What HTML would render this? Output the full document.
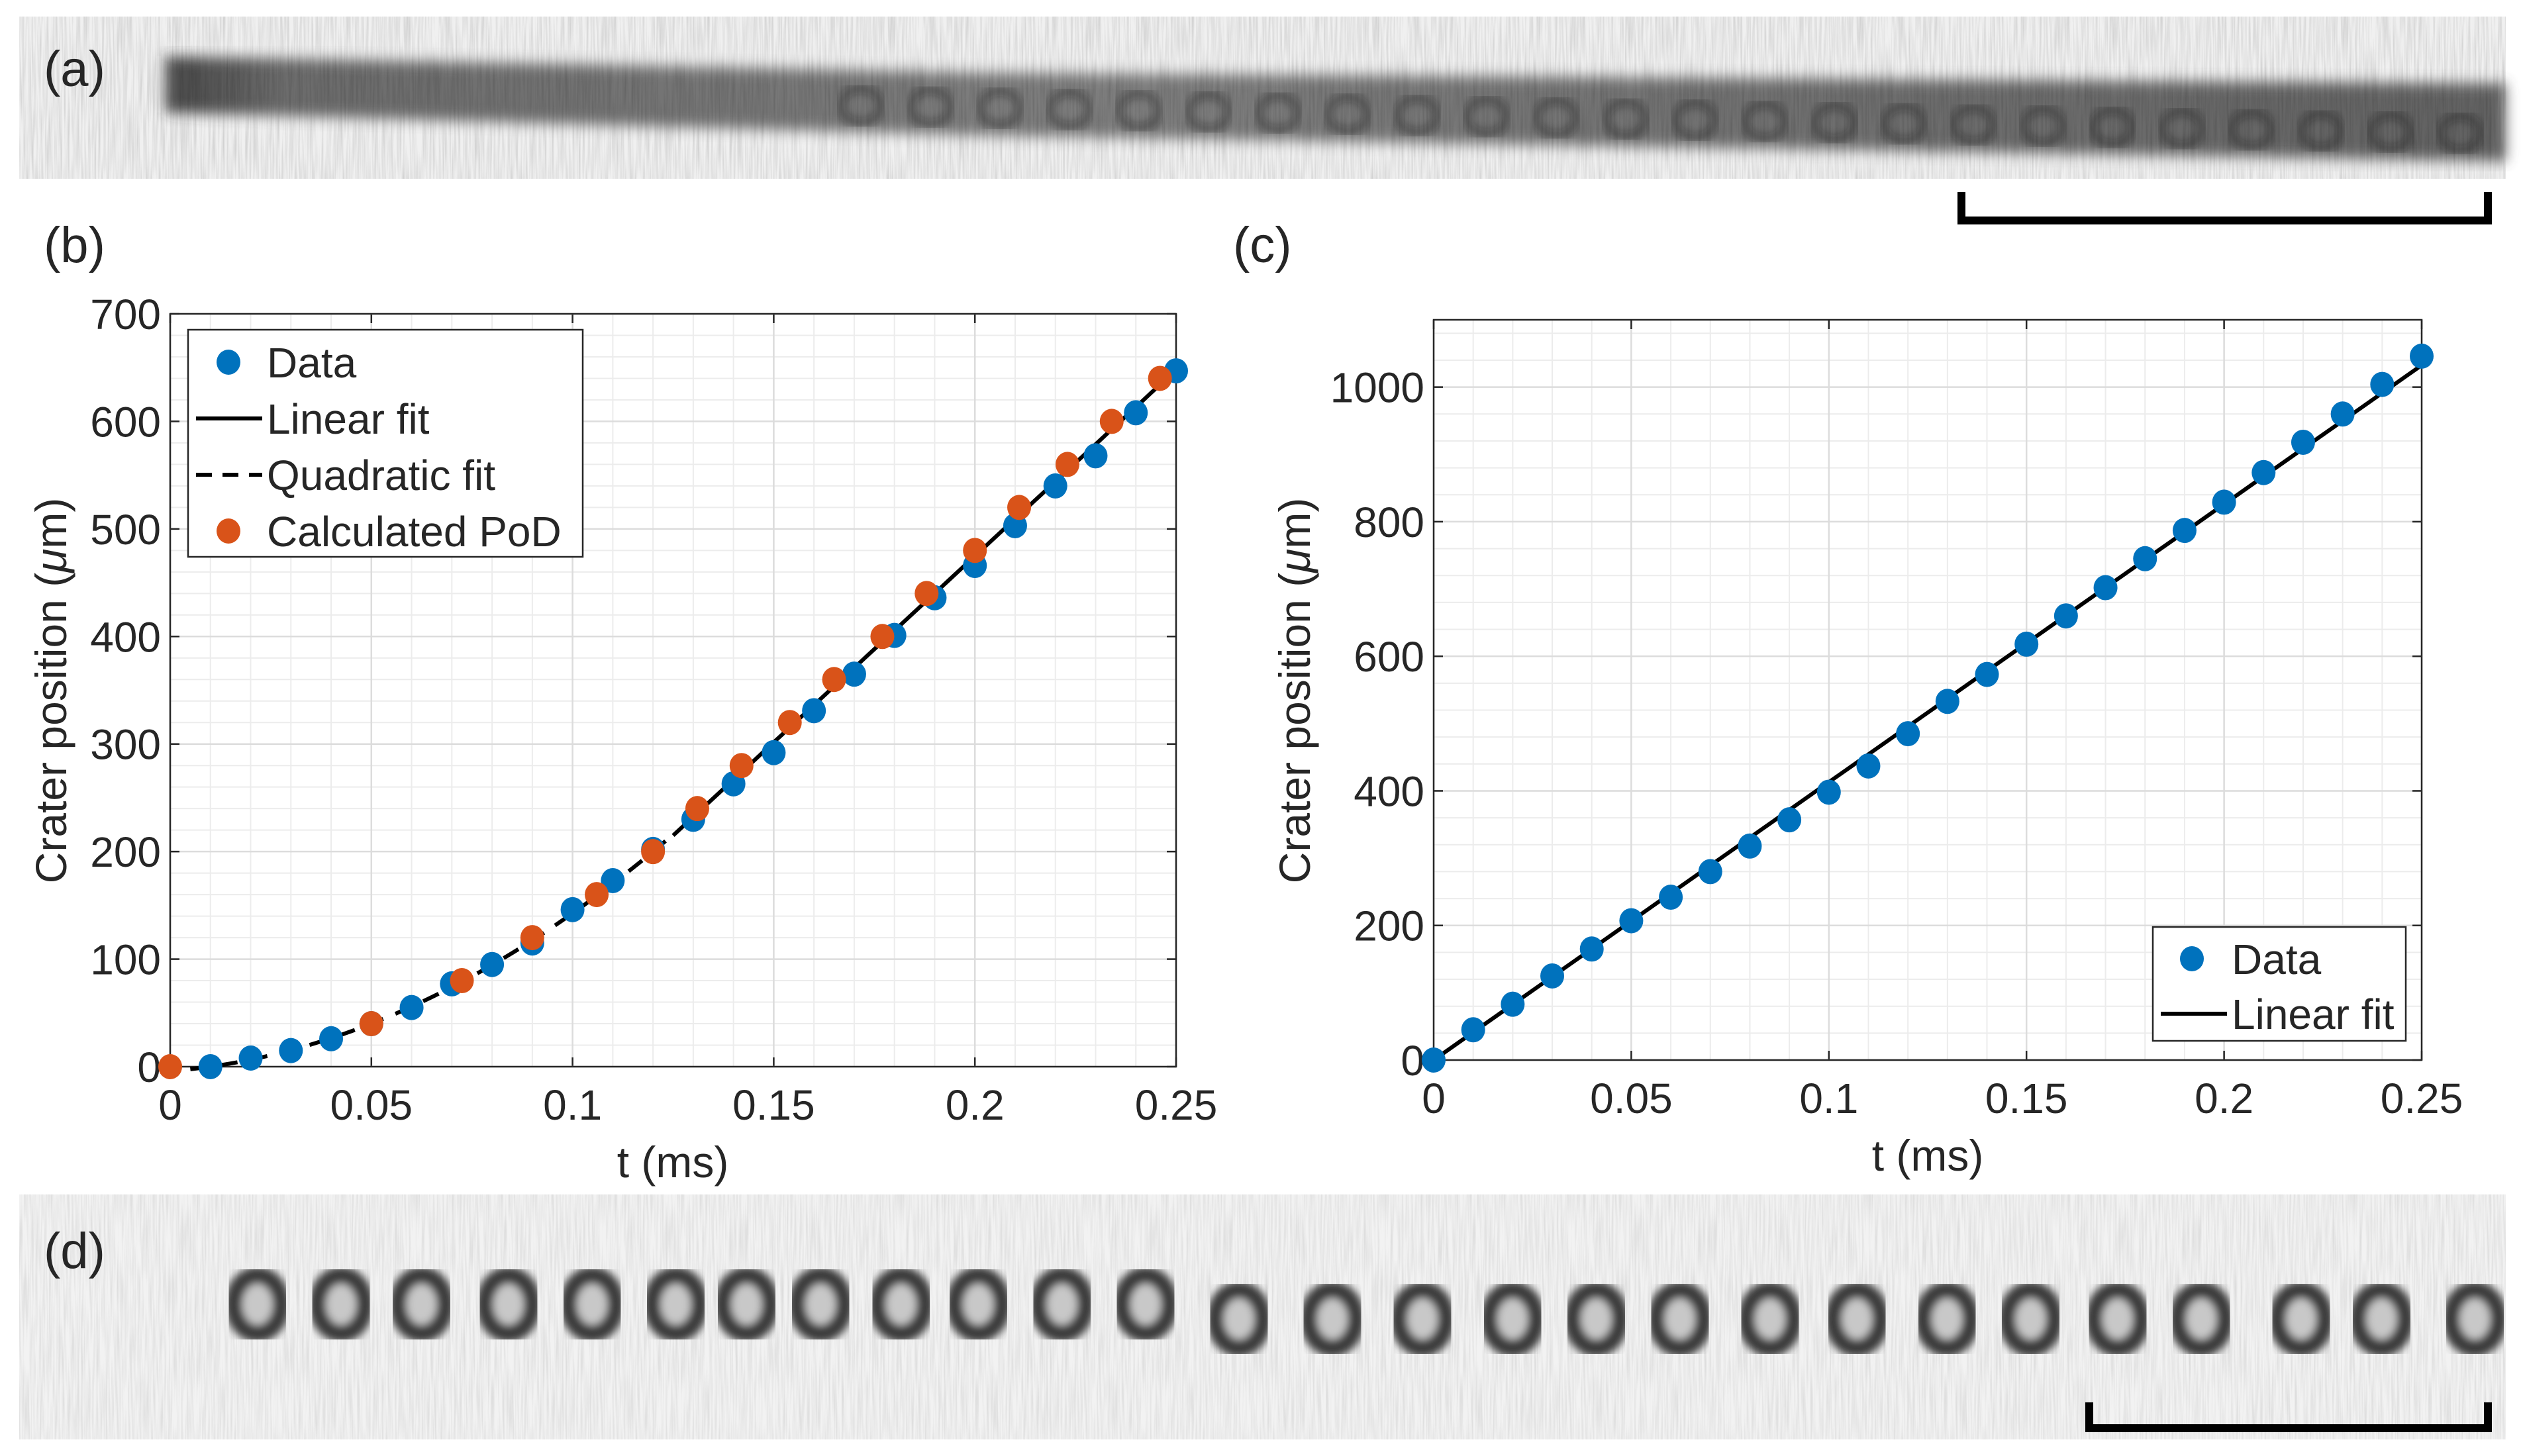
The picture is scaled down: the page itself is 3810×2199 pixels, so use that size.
<!DOCTYPE html>
<html><head><meta charset="utf-8">
<style>
html,body{margin:0;padding:0;background:#fff;}
svg{display:block;}
text{font-family:"Liberation Sans",sans-serif;fill:#262626;}
</style></head>
<body>
<svg id="fig" width="3810" height="2199" viewBox="0 0 3810 2199" xmlns="http://www.w3.org/2000/svg">
<defs>
<filter id="noiseA" x="0" y="0" width="100%" height="100%">
<feTurbulence type="fractalNoise" baseFrequency="0.35 0.012" numOctaves="2" seed="3"/>
<feColorMatrix type="matrix" values="0 0 0 0 0  0 0 0 0 0  0 0 0 0 0  0 0 0 -1.6 1.05"/>
</filter>
<linearGradient id="bandA" x1="0" x2="1" y1="0" y2="0">
<stop offset="0" stop-color="#2a2a2a"/><stop offset="0.05" stop-color="#555"/><stop offset="0.4" stop-color="#6a6a6a"/><stop offset="1" stop-color="#4a4a4a"/>
</linearGradient>
<filter id="blur8"><feGaussianBlur stdDeviation="10"/></filter>
<filter id="blur4"><feGaussianBlur stdDeviation="6"/></filter>
</defs>

<!-- Panel (a) -->
<g>
<rect x="29" y="25" width="3755" height="245" fill="#f0f0f0"/>
<polygon points="250,85 1500,110 3784,126 3784,243 1500,205 250,170" fill="url(#bandA)" filter="url(#blur8)" opacity="0.85"/>
<g id="aCraters" opacity="0.3"></g>
<rect x="29" y="25" width="3755" height="245" fill="#000" filter="url(#noiseA)" opacity="0.15"/>
</g>
<text x="66" y="130" font-size="76">(a)</text>
<path d="M2962,290 V333 H3757 V290" fill="none" stroke="#000" stroke-width="12"/>

<!-- Panel (d) -->
<g>
<rect x="29" y="1804" width="3755" height="370" fill="#f2f2f2"/>
<rect x="29" y="1804" width="3755" height="370" fill="#000" filter="url(#noiseA)" opacity="0.1"/>
<g id="dCraters"></g>
</g>
<text x="66" y="1915" font-size="76">(d)</text>
<path d="M3155,2118 V2157 H3757 V2118" fill="none" stroke="#000" stroke-width="12"/>

<text x="66" y="396" font-size="76">(b)</text>
<text x="1862" y="396" font-size="76">(c)</text>

<g id="chartB"></g>
<g id="chartC"></g>
</svg>
<script>
// ---- Chart (b) data ----
const bDataT = [0.01,0.02,0.03,0.04,0.05,0.06,0.07,0.08,0.09,0.10,0.11,0.12,0.13,0.14,0.15,0.16,0.17,0.18,0.19,0.20,0.21,0.22,0.23,0.24,0.25];
const bDataY = [0,8,15,26,40,55,77,95,115,146,173,202,230,263,292,331,365,401,436,466,503,540,568,608,647];
const bPodT = [0,0.05,0.0725,0.09,0.106,0.12,0.131,0.142,0.154,0.165,0.177,0.188,0.2,0.211,0.223,0.234,0.246];
const bPodY = [0,40,80,120,160,200,240,280,320,360,400,440,480,520,560,600,640];
const bQuadCoef = [11688,299,-4.16]; // a t^2 + b t + c
const bQuadRange = [0.005,0.125];
const bLinCoef = [3464,-218];
const bLinRange = [0.125,0.25];
const bXTicks = [0,0.05,0.1,0.15,0.2,0.25];
const bXTickLabels = ["0","0.05","0.1","0.15","0.2","0.25"];
const bYTicks = [0,100,200,300,400,500,600,700];
const bYTickLabels = ["0","100","200","300","400","500","600","700"];

// ---- Chart (c) data ----
const cDataT = [0,0.01,0.02,0.03,0.04,0.05,0.06,0.07,0.08,0.09,0.10,0.11,0.12,0.13,0.14,0.15,0.16,0.17,0.18,0.19,0.20,0.21,0.22,0.23,0.24,0.25];
const cDataY = [0,45,83,125,165,207,242,280,318,357,398,437,485,533,573,618,660,702,745,787,829,873,918,960,1004,1046];
const cLinCoef = [4130,0];
const cLinRange = [0,0.25];
const cXTicks = [0,0.05,0.1,0.15,0.2,0.25];
const cXTickLabels = ["0","0.05","0.1","0.15","0.2","0.25"];
const cYTicks = [0,200,400,600,800,1000];
const cYTickLabels = ["0","200","400","600","800","1000"];

const NS="http://www.w3.org/2000/svg";
function mk(parent,tag,attrs){const e=document.createElementNS(NS,tag);for(const k in attrs)e.setAttribute(k,attrs[k]);parent.appendChild(e);return e;}

function drawAxes(g,cfg){
  const {L,R,T,B,xmax,ymax,xMinor,yMinor,xTicks,xLabels,yTicks,yLabels}=cfg;
  const sx=v=>L+(v/xmax)*(R-L), sy=v=>B-(v/ymax)*(B-T);
  mk(g,'rect',{x:L,y:T,width:R-L,height:B-T,fill:'#fff'});
  for(let v=0;v<=xmax+1e-9;v+=xMinor){const l=mk(g,'line',{x1:sx(v),x2:sx(v),y1:T,y2:B,stroke:'#ececec','stroke-width':2});}
  for(let v=0;v<=ymax+1e-9;v+=yMinor){const l=mk(g,'line',{x1:L,x2:R,y1:sy(v),y2:sy(v),stroke:'#ececec','stroke-width':2});}
  xTicks.forEach((v,i)=>{
    const l=mk(g,'line',{x1:sx(v),x2:sx(v),y1:T,y2:B,stroke:'#dcdcdc','stroke-width':2.5});
    
    mk(g,'line',{x1:sx(v),x2:sx(v),y1:B,y2:B-14,stroke:'#262626','stroke-width':2.5});
    mk(g,'line',{x1:sx(v),x2:sx(v),y1:T,y2:T+14,stroke:'#262626','stroke-width':2.5});
    const t=mk(g,'text',{x:sx(v),y:B+80,'font-size':64,'text-anchor':'middle'});t.textContent=xLabels[i];
    
  });
  yTicks.forEach((v,i)=>{
    const l=mk(g,'line',{x1:L,x2:R,y1:sy(v),y2:sy(v),stroke:'#dcdcdc','stroke-width':2.5});
    
    mk(g,'line',{x1:L,x2:L+14,y1:sy(v),y2:sy(v),stroke:'#262626','stroke-width':2.5});
    mk(g,'line',{x1:R,x2:R-14,y1:sy(v),y2:sy(v),stroke:'#262626','stroke-width':2.5});
    const t=mk(g,'text',{x:L-14,y:sy(v)+23,'font-size':64,'text-anchor':'end'});t.textContent=yLabels[i];
    
  });
  const box=mk(g,'rect',{x:L,y:T,width:R-L,height:B-T,fill:'none',stroke:'#262626','stroke-width':2.5});
  
  return {sx,sy};
}
function fitPath(g,sx,sy,f,r,dash,name){
  let d='';const n=60;
  for(let i=0;i<=n;i++){const t=r[0]+(r[1]-r[0])*i/n;d+=(i?'L':'M')+sx(t).toFixed(1)+','+sy(f(t)).toFixed(1);}
  const p=mk(g,'path',{d:d,fill:'none',stroke:'#000','stroke-width':6});
  if(dash)p.setAttribute('stroke-dasharray','26,20');
  
}
function dots(g,sx,sy,T,Y,color,name){
  T.forEach((t,i)=>{const c=mk(g,'ellipse',{cx:sx(t),cy:sy(Y[i]),rx:18,ry:19,fill:color});
    });
}
function label(g,x,y,txt,rot,name){
  const t=mk(g,'text',{x:x,y:y,'font-size':66,'text-anchor':'middle'});
  if(rot)t.setAttribute('transform','rotate(-90 '+x+' '+y+')');
  t.innerHTML=txt;
}

// Chart B
const gB=document.getElementById('chartB');
const aB=drawAxes(gB,{L:257,R:1776,T:474,B:1611,xmax:0.25,ymax:700,xMinor:0.01,yMinor:20,xTicks:bXTicks,xLabels:bXTickLabels,yTicks:bYTicks,yLabels:bYTickLabels});
fitPath(gB,aB.sx,aB.sy,t=>bQuadCoef[0]*t*t+bQuadCoef[1]*t+bQuadCoef[2],bQuadRange,true,'quadratic-fit-line');
fitPath(gB,aB.sx,aB.sy,t=>bLinCoef[0]*t+bLinCoef[1],bLinRange,false,'linear-fit-line');
dots(gB,aB.sx,aB.sy,bDataT,bDataY,'#0072BD','data-point');
dots(gB,aB.sx,aB.sy,bPodT,bPodY,'#D95319','calculated-pod-point');
label(gB,1016,1778,'t (ms)',false,'x-axis-title');
label(gB,100,1043,'Crater position (<tspan font-style="italic">μ</tspan>m)',true,'y-axis-title');
const lgB=mk(gB,'g',{});
mk(lgB,'rect',{x:284,y:498,width:596,height:343,fill:'#fff',stroke:'#262626','stroke-width':2.5});
[['Data','dot','#0072BD'],['Linear fit','line'],['Quadratic fit','dash'],['Calculated PoD','dot','#D95319']].forEach((e,i)=>{
  const y=547+i*85;
  const g=mk(lgB,'g',{});
  if(e[1]==='dot')mk(g,'ellipse',{cx:345,cy:y,rx:18,ry:19,fill:e[2]});
  else{const l=mk(g,'line',{x1:296,x2:396,y1:y,y2:y,stroke:'#000','stroke-width':6});if(e[1]==='dash')l.setAttribute('stroke-dasharray','24,16');}
  const t=mk(g,'text',{x:403,y:y+23,'font-size':64});t.textContent=e[0];
});

// Chart C
const gC=document.getElementById('chartC');
const aC=drawAxes(gC,{L:2165,R:3657,T:483,B:1601,xmax:0.25,ymax:1100,xMinor:0.01,yMinor:40,xTicks:cXTicks,xLabels:cXTickLabels,yTicks:cYTicks,yLabels:cYTickLabels});
fitPath(gC,aC.sx,aC.sy,t=>cLinCoef[0]*t+cLinCoef[1],cLinRange,false,'linear-fit-line');
dots(gC,aC.sx,aC.sy,cDataT,cDataY,'#0072BD','data-point');
label(gC,2911,1768,'t (ms)',false,'x-axis-title');
label(gC,1978,1043,'Crater position (<tspan font-style="italic">μ</tspan>m)',true,'y-axis-title');
const lgC=mk(gC,'g',{});
mk(lgC,'rect',{x:3251,y:1400,width:382,height:172,fill:'#fff',stroke:'#262626','stroke-width':2.5});
[['Data','dot'],['Linear fit','line']].forEach((e,i)=>{
  const y=1448+i*83;
  const g=mk(lgC,'g',{});
  if(e[1]==='dot')mk(g,'ellipse',{cx:3310,cy:y,rx:18,ry:19,fill:'#0072BD'});
  else mk(g,'line',{x1:3263,x2:3363,y1:y,y2:y,stroke:'#000','stroke-width':6});
  const t=mk(g,'text',{x:3370,y:y+23,'font-size':64});t.textContent=e[0];
});

// Photo decorations (not data)
const dC=document.getElementById('dCraters');
const craterX=[160,212,262,316,368,420,464,510,560,608,660,712,770,828,884,940,992,1044,1100,1154,1210,1262,1316,1368,1430,1480,1538];
craterX.forEach((x,i)=>{
  const cx=x*2.43, cy=1970+ (i>11?22:0);
  const c=mk(dC,'ellipse',{cx:cx,cy:cy,rx:36,ry:44,fill:'#c8c8c8',stroke:'#3a3a3a','stroke-width':26,filter:'url(#blur4)'});
  
});
const aCr=document.getElementById('aCraters');
for(let i=0;i<24;i++){const cx=1300+i*105, cy=160+i*1.8;
  mk(aCr,'ellipse',{cx:cx,cy:cy,rx:30,ry:26,fill:'none',stroke:'#111','stroke-width':14,filter:'url(#blur4)'});}
</script>
</body></html>
